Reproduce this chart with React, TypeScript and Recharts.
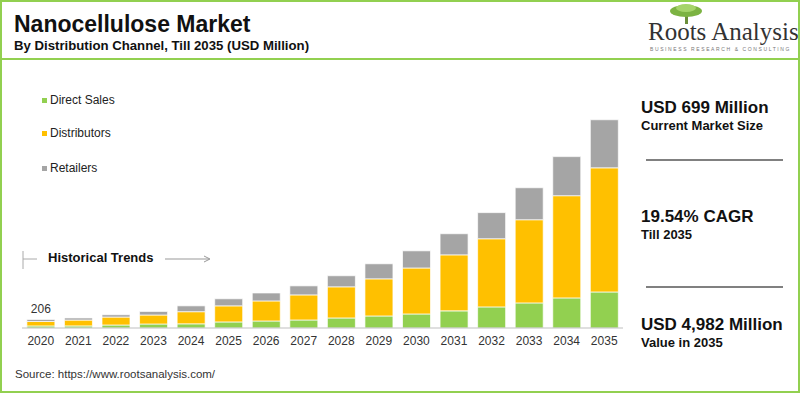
import { Bar, BarChart, LabelList, XAxis, YAxis } from 'recharts';

const YEARS = [
  '2020', '2021', '2022', '2023', '2024', '2025', '2026', '2027',
  '2028', '2029', '2030', '2031', '2032', '2033', '2034', '2035',
];
const DIRECT_SALES = [50, 50, 72, 96, 100, 145, 168, 192, 240, 288, 336, 410, 505, 600, 720, 862];
const DISTRIBUTORS = [106, 140, 190, 215, 290, 385, 480, 600, 745, 888, 1100, 1340, 1630, 1990, 2445, 2970];
const RETAILERS = [50, 50, 55, 85, 140, 169, 190, 216, 265, 360, 410, 505, 625, 765, 935, 1150];

const GREEN = '#92D050';
const YELLOW = '#FFC000';
const GREY = '#A5A5A5';
const FONT = '"Liberation Sans", Arial, sans-serif';

const rows = YEARS.map((year, i) => ({
  year,
  direct: DIRECT_SALES[i],
  distributors: DISTRIBUTORS[i],
  retailers: RETAILERS[i],
  total: DIRECT_SALES[i] + DISTRIBUTORS[i] + RETAILERS[i],
}));

const LEGEND = [
  { name: 'Direct Sales', color: GREEN, top: 100 },
  { name: 'Distributors', color: YELLOW, top: 133 },
  { name: 'Retailers', color: GREY, top: 168 },
];

// only the first (2020) bar carries a total label in the original
function FirstTotal(props: any) {
  const { x, y, width, index } = props;
  if (index !== 0) return null;
  return (
    <text x={x + width / 2} y={y - 6} textAnchor="middle" fontSize={12} fill="#333" fontFamily={FONT}>
      {rows[0].total}
    </text>
  );
}

function Logo() {
  return (
    <div style={{ position: 'absolute', left: 640, top: 2, width: 158, height: 56 }}>
      <svg width={158} height={24} style={{ position: 'absolute', left: 0, top: 0 }}>
        <rect x={45} y={10} width={3} height={12} fill="#6b8e3a" />
        <ellipse cx={46} cy={9} rx={16} ry={6} fill="#7cb342" />
        <ellipse cx={46} cy={6} rx={10} ry={4} fill="#a5d46a" />
      </svg>
      <div
        style={{
          position: 'absolute', left: 8, top: 16, fontFamily: '"Liberation Serif", serif',
          fontSize: 25, color: '#333', whiteSpace: 'nowrap', lineHeight: '28px',
        }}
      >
        Roots Analysis
      </div>
      <div
        style={{
          position: 'absolute', left: 10, top: 44, fontFamily: FONT, fontSize: 5,
          letterSpacing: 1.6, color: '#777', whiteSpace: 'nowrap',
        }}
      >
        BUSINESS RESEARCH &amp; CONSULTING
      </div>
    </div>
  );
}

function Stat({ top, big, small }: { top: number; big: string; small: string }) {
  return (
    <div style={{ position: 'absolute', left: 641, top, fontFamily: FONT, color: '#111', whiteSpace: 'nowrap' }}>
      <div style={{ fontSize: 17, fontWeight: 'bold', lineHeight: '20px' }}>{big}</div>
      <div style={{ fontSize: 13, fontWeight: 'bold', lineHeight: '16px' }}>{small}</div>
    </div>
  );
}

export default function App() {
  return (
    <div
      style={{
        position: 'relative', width: 800, height: 393, background: '#fff',
        boxSizing: 'border-box', overflow: 'hidden', fontFamily: FONT,
      }}
    >
      <style>{'body{margin:0}'}</style>
      {/* frame */}
      <div
        style={{
          position: 'absolute', inset: 0, border: `2px solid ${GREEN}`,
          boxSizing: 'border-box', pointerEvents: 'none', zIndex: 2,
        }}
      />
      <div style={{ position: 'absolute', left: 0, top: 58, width: 800, height: 2, background: GREEN }} />

      <div style={{ position: 'absolute', left: 14, top: 11, fontSize: 23, fontWeight: 'bold', color: '#111', whiteSpace: 'nowrap' }}>
        Nanocellulose Market
      </div>
      <div style={{ position: 'absolute', left: 14, top: 38, fontSize: 13.2, fontWeight: 'bold', color: '#111', whiteSpace: 'nowrap' }}>
        By Distribution Channel, Till 2035 (USD Million)
      </div>
      <Logo />

      {LEGEND.map((item) => (
        <div key={item.name} style={{ position: 'absolute', left: 42, top: item.top - 8, height: 16, display: 'flex', alignItems: 'center', fontSize: 12, color: '#222' }}>
          <span style={{ width: 5, height: 5, background: item.color, marginRight: 3 }} />
          {item.name}
        </div>
      ))}

      {/* historical trends marker */}
      <svg width={220} height={30} style={{ position: 'absolute', left: 18, top: 245 }}>
        <line x1={5} y1={6} x2={5} y2={24} stroke="#aaa" strokeWidth={1} />
        <line x1={5} y1={14} x2={19} y2={14} stroke="#aaa" strokeWidth={1} />
        <line x1={147} y1={14} x2={191} y2={14} stroke="#999" strokeWidth={1} />
        <path d="M186 11 L192 14 L186 17" fill="none" stroke="#999" strokeWidth={1} />
      </svg>
      <div style={{ position: 'absolute', left: 48, top: 250, fontSize: 13, fontWeight: 'bold', color: '#111' }}>
        Historical Trends
      </div>

      <div style={{ position: 'absolute', left: 0, top: 0 }}>
        <BarChart
          width={640}
          height={393}
          data={rows}
          margin={{ top: 119, right: 17, bottom: 45, left: 22 }}
          barCategoryGap="13%"
        >
          <XAxis
            dataKey="year"
            height={20}
            tickLine={false}
            axisLine={{ stroke: '#bfbfbf' }}
            tick={{ fontSize: 12, fill: '#333', fontFamily: FONT }}
            interval={0}
          />
          <YAxis hide domain={[0, 5000]} />
          <Bar dataKey="direct" stackId="a" fill={GREEN} stroke="#fff" strokeWidth={0.7} isAnimationActive={false} />
          <Bar dataKey="distributors" stackId="a" fill={YELLOW} stroke="#fff" strokeWidth={0.7} isAnimationActive={false} />
          <Bar dataKey="retailers" stackId="a" fill={GREY} stroke="#fff" strokeWidth={0.7} isAnimationActive={false}>
            <LabelList dataKey="total" content={FirstTotal} />
          </Bar>
        </BarChart>
      </div>

      <Stat top={98} big="USD 699 Million" small="Current Market Size" />
      <div style={{ position: 'absolute', left: 646, top: 159, width: 137, height: 2, background: '#808080' }} />
      <Stat top={207} big="19.54% CAGR" small="Till 2035" />
      <div style={{ position: 'absolute', left: 646, top: 286, width: 137, height: 2, background: '#808080' }} />
      <Stat top={315} big="USD 4,982 Million" small="Value in 2035" />

      <div style={{ position: 'absolute', left: 15, top: 368, fontSize: 11.5, color: '#333' }}>
        Source: https://www.rootsanalysis.com/
      </div>
    </div>
  );
}
